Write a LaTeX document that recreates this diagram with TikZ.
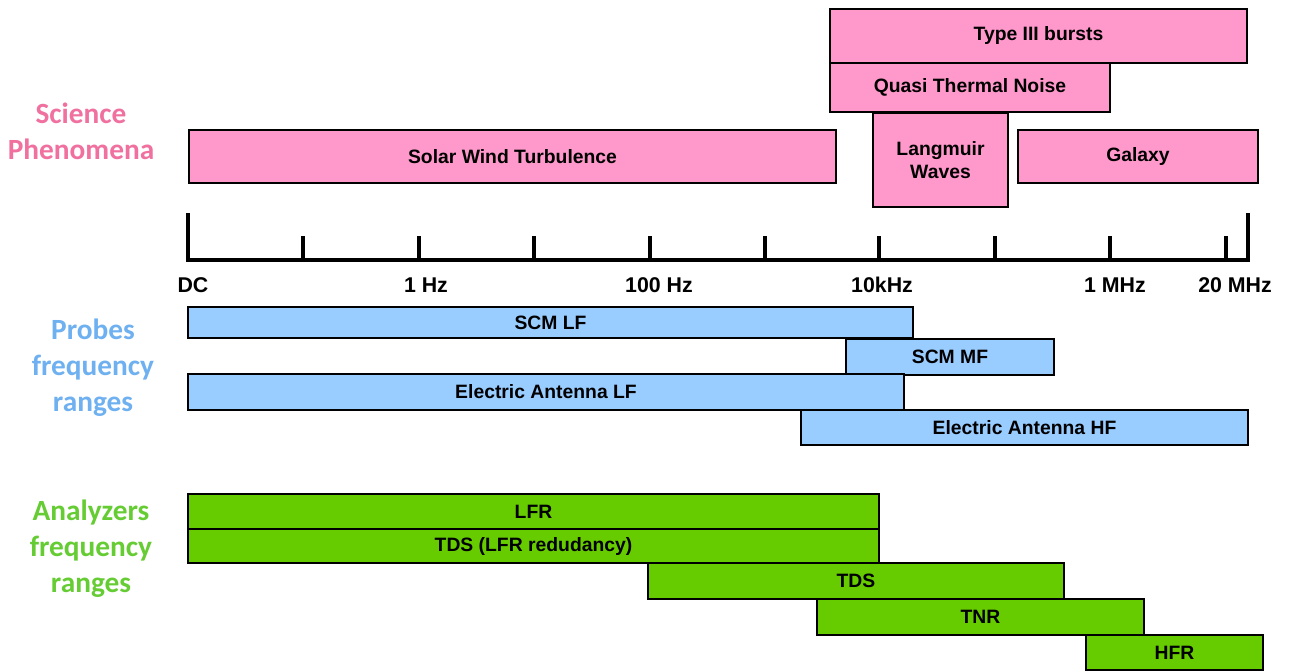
\documentclass[tikz,border=0pt]{standalone}
\usepackage{fontspec}
\setmainfont{Liberation Sans}
\newfontfamily\groupfont{Carlito}
\usetikzlibrary{fit}
\definecolor{SciFill}{HTML}{FF99CC}
\definecolor{ProbeFill}{HTML}{99CCFF}
\definecolor{AnlzFill}{HTML}{66CC00}
\definecolor{SciText}{HTML}{F0709F}
\definecolor{ProbeText}{HTML}{6EB0F0}
\definecolor{AnlzText}{HTML}{66CC33}

\begin{document}
\begin{tikzpicture}[x=0.75pt, y=-0.75pt,
    band/.style = {draw, line width=1.5pt, inner sep=0pt},
   btext/.style = {align=center, font=\bfseries\fontsize{14.5}{17.5}\selectfont},
     sci/.style = {band, fill=SciFill},
   probe/.style = {band, fill=ProbeFill},
    anlz/.style = {band, fill=AnlzFill},
   group/.style = {align=center, font=\groupfont\bfseries\fontsize{22}{27}\selectfont},
    freq/.style = {font=\bfseries\fontsize{16}{18}\selectfont},
    axis/.style = {line width=2.8pt}
                        ]
\useasboundingbox (0,0) rectangle (1294,671);
% group titles
\node[group, text=SciText]   (scititle)   at (81,131) {Science\\Phenomena};
\node[group, text=ProbeText] (probetitle) at (93,368) {Probes\\frequency\\ranges};
\node[group, text=AnlzText]  (anlztitle)  at (91,549) {Analyzers\\frequency\\ranges};

% science phenomena
\node[sci, fit={(830,9) (1247,63)},    label={[btext]center:Type III bursts}]     (typeiii) {};
\node[sci, fit={(830,63) (1110,112)},  label={[btext]center:Quasi Thermal Noise}] (qtn)     {};
\node[sci, fit={(873,113) (1008,207)}, label={[btext]center:Langmuir\\Waves}]     (langm)   {};
\node[sci, fit={(1018,130) (1258,183)}, label={[btext]center:Galaxy}]             (galaxy)  {};
\node[sci, fit={(189,130) (836,183)},  label={[btext]center:Solar Wind Turbulence}] (solarw) {};

% frequency axis
\coordinate (dc)  at (188,260);
\coordinate (top) at (1248,260);
\draw[axis] (dc) ++(0,-47) -- (dc) -- (top) -- ++(0,-47);
\foreach \x in {303,419,534,650,765,879,995,1110,1226}
    \draw[axis] (\x,260) -- (\x,236);
\node[freq] (fdc)   at (193,285)  {DC};
\node[freq] (f1hz)  at (426,285)  {1 Hz};
\node[freq] (f100)  at (659,285)  {100 Hz};
\node[freq] (f10k)  at (882,285)  {10kHz};
\node[freq] (f1m)   at (1115,285) {1 MHz};
\node[freq] (f20m)  at (1235,285) {20 MHz};

% probes
\node[probe, fit={(188,307) (913,338)},  label={[btext]center:SCM LF}]              (scmlf) {};
\node[probe, fit={(846,339) (1054,375)}, label={[btext]center:SCM MF}]              (scmmf) {};
\node[probe, fit={(188,374) (904,410)},  label={[btext]center:Electric Antenna LF}] (ealf)  {};
\node[probe, fit={(801,410) (1248,445)}, label={[btext]center:Electric Antenna HF}] (eahf)  {};

% analyzers
\node[anlz, fit={(188,494) (879,529)},   label={[btext]center:LFR}]                 (lfr)    {};
\node[anlz, fit={(188,529) (879,563)},   label={[btext]center:TDS (LFR redudancy)}] (tdsred) {};
\node[anlz, fit={(648,563) (1064,599)},  label={[btext]center:TDS}]                 (tds)    {};
\node[anlz, fit={(817,599) (1144,635)},  label={[btext]center:TNR}]                 (tnr)    {};
\node[anlz, fit={(1086,635) (1263,670)}, label={[btext]center:HFR}]                 (hfr)    {};
\end{tikzpicture}
\end{document}
